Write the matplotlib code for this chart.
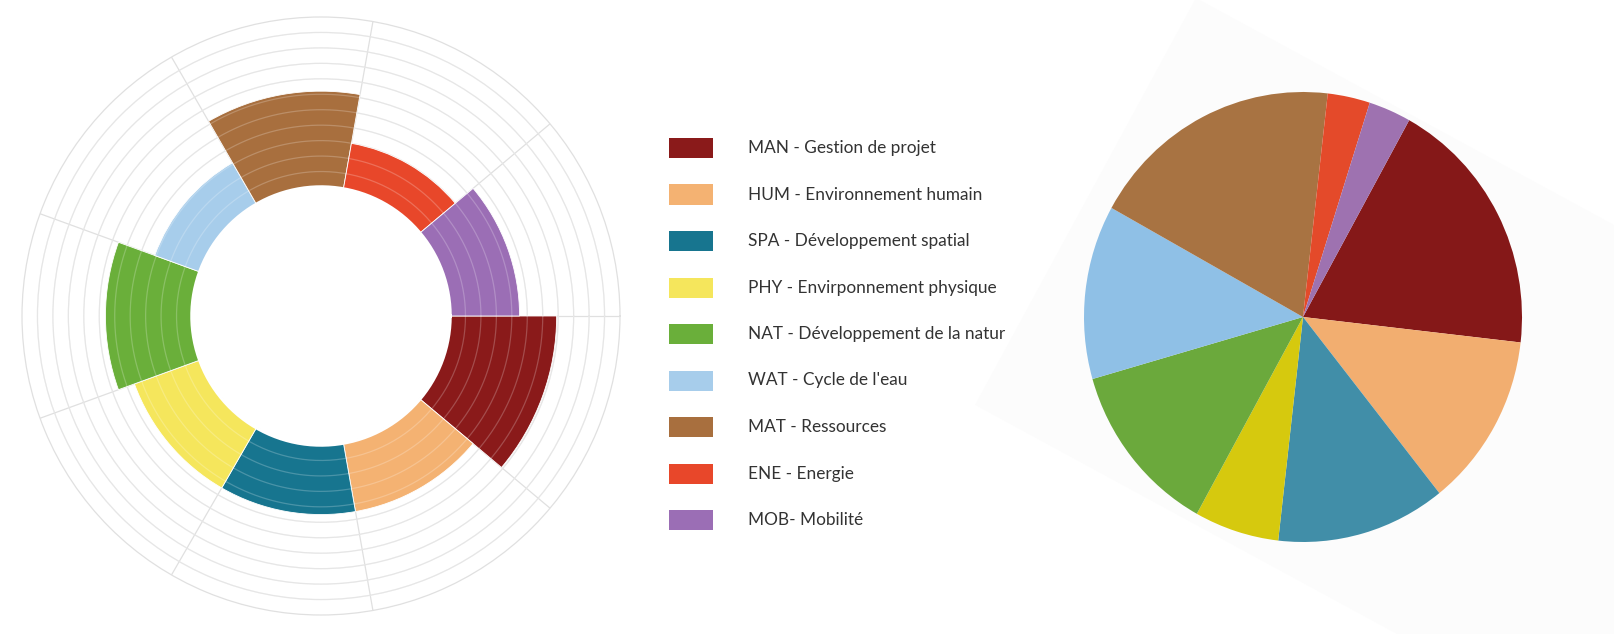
import numpy as np
import matplotlib

matplotlib.use("Agg")
import matplotlib.pyplot as plt
from matplotlib.patches import Rectangle, Polygon

# Themes (same order in the polar bars, the legend and the pie).
codes = ["MAN", "HUM", "SPA", "PHY", "NAT", "WAT", "MAT", "ENE", "MOB"]
labels = [
    "MAN - Gestion de projet",
    "HUM - Environnement humain",
    "SPA - Développement spatial",
    "PHY - Envirponnement physique",
    "NAT - Développement de la natur",
    "WAT - Cycle de l'eau",
    "MAT - Ressources",
    "ENE - Energie",
    "MOB- Mobilité",
]
scores = [6.9, 4.5, 4.5, 4.5, 5.6, 3.1, 6.2, 3.0, 4.5]
shares = [6, 4, 4, 2, 4, 4, 6, 1, 1]

bar_colors = ["#8a1a1a", "#f4b272", "#17758f", "#f5e65c", "#6aaf3a",
              "#a7cdeb", "#a86f3e", "#e8472a", "#9b6eb5"]
pie_colors = ["#851818", "#f2ae70", "#418ea8", "#d6c90e", "#6ba93c",
              "#8fc0e6", "#a87342", "#e44a2a", "#9e72b0"]

W, H = 1614, 634
fig = plt.figure(figsize=(W / 100, H / 100), dpi=100)
fig.patch.set_facecolor("white")


def px_rect(cx, cy, w, h):
    """Axes rect from a centre and size in pixels (y measured from the top)."""
    return [(cx - w / 2) / W, (H - cy - h / 2) / H, w / W, h / H]


# --- polar bar chart -------------------------------------------------------
outer_px = 299
ax = fig.add_axes(px_rect(321, 316, 2 * outer_px, 2 * outer_px), projection="polar")
ax.set_theta_zero_location("E")
ax.set_theta_direction(-1)
ax.set_ylim(0, 11)
ax.set_rorigin(-8.35)

n = len(codes)
width = 2 * np.pi / n
theta = width / 2 + width * np.arange(n)
ax.bar(theta, scores, width=width, bottom=0, color=bar_colors,
       edgecolor="white", linewidth=0.6, zorder=2)

# light rings running across the bars
tt = np.linspace(0, 2 * np.pi, 400)
for r in range(1, 11):
    ax.plot(tt, np.full_like(tt, r), color="white", alpha=0.22, lw=0.9, zorder=3)
# clean white edge around the hole
ax.plot(tt, np.zeros_like(tt), color="white", lw=2.5, zorder=10, clip_on=False)

ax.set_xticks(width * np.arange(n))
ax.set_yticks(np.arange(1, 11))
ax.set_xticklabels([])
ax.set_yticklabels([])
ax.tick_params(length=0)
ax.grid(True, color="#e0e0e0", lw=0.9)
for name, spine in ax.spines.items():
    spine.set_visible(name == "polar")
ax.spines["polar"].set_color("#e0e0e0")
ax.spines["polar"].set_linewidth(0.9)
ax.patch.set_edgecolor("none")
ax.set_facecolor("white")

# --- legend ------------------------------------------------------------------
for i, (lab, col) in enumerate(zip(labels, bar_colors)):
    yc = 148 + 46.5 * i
    fig.patches.append(Rectangle((669 / W, (H - yc - 10) / H), 44 / W, 20 / H,
                                 transform=fig.transFigure, facecolor=col,
                                 edgecolor="none"))
    fig.text(748 / W, (H - yc) / H, lab, ha="left", va="center",
             fontsize=12.4, family="Lato", color="#333333")

# --- pie -------------------------------------------------------------------
# faint tilted backdrop behind the pie
top = np.array([1196, -2])
u = np.array([np.cos(np.radians(28.5)), np.sin(np.radians(28.5))])
v = np.array([-u[1], u[0]])
corners = [top, top + 760 * u, top + 760 * u + 463 * v, top + 463 * v]
fig.patches.append(Polygon([(x / W, (H - y) / H) for x, y in corners],
                           closed=True, transform=fig.transFigure,
                           facecolor="#fcfcfc", edgecolor="none", zorder=-1))

pax = fig.add_axes(px_rect(1303, 317, 438, 450))
pax.pie(shares, colors=pie_colors, startangle=61, counterclock=False,
        wedgeprops={"linewidth": 0})
pax.set_aspect("auto")
pax.set_xlim(-1, 1)
pax.set_ylim(-1, 1)
pax.axis("off")

fig.savefig("out.png", dpi=100, facecolor="white")
